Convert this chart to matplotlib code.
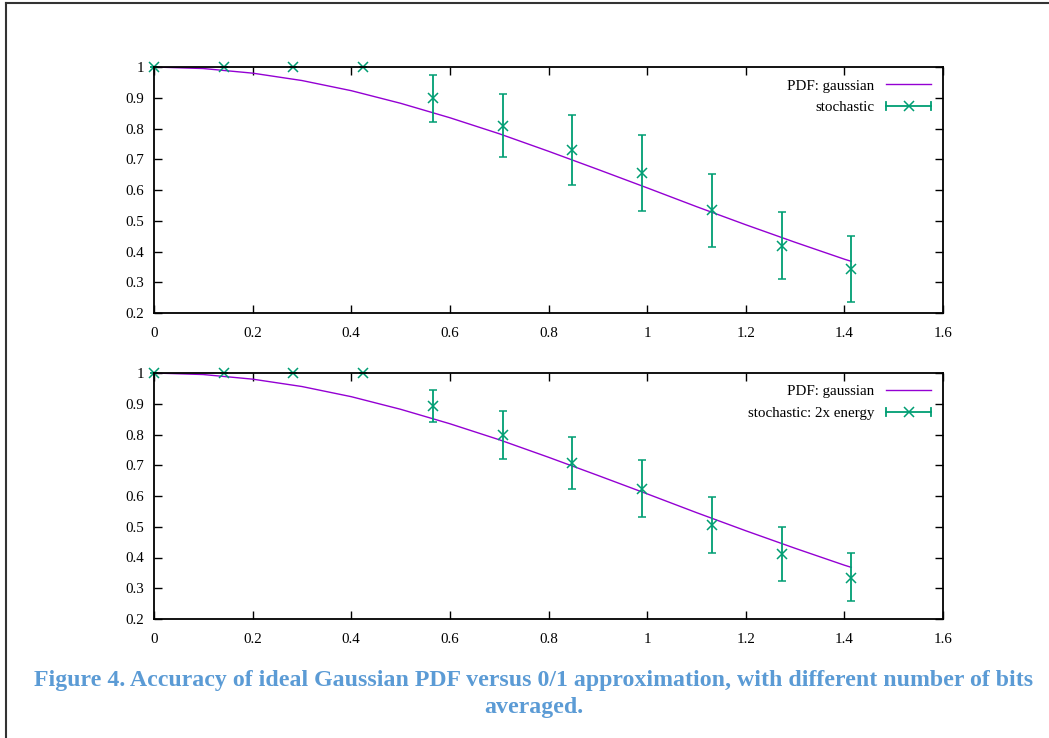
import matplotlib
matplotlib.use("Agg")
import matplotlib.pyplot as plt  # noqa: E402
from matplotlib.lines import Line2D  # noqa: E402
from matplotlib.legend_handler import HandlerBase  # noqa: E402
import numpy as np  # noqa: E402

# gaussian PDF curve
pdf_x = [0.0, 0.1, 0.2, 0.3, 0.4, 0.5, 0.6, 0.7, 0.8, 0.9, 1.0, 1.1, 1.2,
         1.3, 1.4, 1.414]
pdf_y = [1.0, 0.995, 0.980, 0.956, 0.923, 0.882, 0.835, 0.783, 0.726, 0.667,
         0.607, 0.546, 0.487, 0.430, 0.375, 0.368]

# stochastic points (same x for both panels)
sx = [0.0, 0.1414, 0.2828, 0.4243, 0.5657, 0.7071, 0.8485, 0.9899, 1.1314,
      1.2728, 1.4142]
s1_y = [1.0, 1.0, 1.0, 1.0, 0.898, 0.809, 0.730, 0.656, 0.534, 0.419, 0.343]
s1_lo = [1.0, 1.0, 1.0, 1.0, 0.822, 0.708, 0.616, 0.533, 0.416, 0.310, 0.236]
s1_hi = [1.0, 1.0, 1.0, 1.0, 0.975, 0.911, 0.844, 0.780, 0.651, 0.529, 0.451]
s2_y = [1.0, 1.0, 1.0, 1.0, 0.893, 0.798, 0.707, 0.623, 0.506, 0.411, 0.334]
s2_lo = [1.0, 1.0, 1.0, 1.0, 0.840, 0.719, 0.622, 0.532, 0.415, 0.325, 0.258]
s2_hi = [1.0, 1.0, 1.0, 1.0, 0.946, 0.877, 0.792, 0.717, 0.597, 0.498, 0.414]

xticks = [0, 0.2, 0.4, 0.6, 0.8, 1, 1.2, 1.4, 1.6]
xlabels = ["0", "0.2", "0.4", "0.6", "0.8", "1", "1.2", "1.4", "1.6"]
yticks = [0.2, 0.3, 0.4, 0.5, 0.6, 0.7, 0.8, 0.9, 1]
ylabels = ["0.2", "0.3", "0.4", "0.5", "0.6", "0.7", "0.8", "0.9", "1"]

C_PDF = "#9400d3"
C_STO = "#009e73"

plt.rcParams["font.family"] = ["Liberation Serif", "DejaVu Serif"]


class GnuErrHandler(HandlerBase):
    """gnuplot-style key sample: horizontal bar with end caps and an x."""

    def create_artists(self, legend, orig, xd, yd, width, height, fontsize,
                       trans):
        y = yd + height / 2
        c = C_STO
        cap = height * 0.4
        arts = [
            Line2D([xd, xd + width], [y, y], color=c, lw=1.3),
            Line2D([xd, xd], [y - cap, y + cap], color=c, lw=1.3),
            Line2D([xd + width, xd + width], [y - cap, y + cap], color=c,
                   lw=1.3),
            Line2D([xd + width / 2], [y], color=c, marker="x", ms=7,
                   mew=1.1, ls="none"),
        ]
        for a in arts:
            a.set_transform(trans)
        return arts


fig = plt.figure(figsize=(10.49, 7.38), dpi=100)
W, H = 1049, 738


def panel(top_px, ys, lo, hi, label):
    ax = fig.add_axes([154 / W, 1 - (top_px + 246) / H, 789 / W, 246 / H])
    ln, = ax.plot(pdf_x, pdf_y, color=C_PDF, lw=1.0)
    ys = np.array(ys)
    yerr = [ys - np.array(lo), np.array(hi) - ys]
    eb = ax.errorbar(sx, ys, yerr=yerr, color=C_STO, lw=1.3, capsize=2.7,
                     capthick=1.3, marker="x", ms=7, mew=1.1, ls="none",
                     clip_on=False)
    ax.set_xlim(0, 1.6)
    ax.set_ylim(0.2, 1)
    ax.set_xticks(xticks)
    ax.set_xticklabels(xlabels)
    ax.set_yticks(yticks)
    ax.set_yticklabels(ylabels)
    ax.tick_params(direction="in", top=True, right=True, length=6, width=1,
                   labelsize=10.8)
    ax.tick_params(axis="y", pad=7)
    ax.tick_params(axis="x", pad=10)
    for s in ax.spines.values():
        s.set_linewidth(1.3)
    ax.legend([ln, eb], ["PDF: gaussian", label], loc="upper right",
              frameon=False, markerfirst=False, fontsize=10.8,
              handlelength=3.0, borderaxespad=0.4, labelspacing=0.55,
              handler_map={type(eb): GnuErrHandler()})
    return ax


panel(67, s1_y, s1_lo, s1_hi, "stochastic")
panel(373, s2_y, s2_lo, s2_hi, "stochastic: 2x energy")

# page frame (top and left edges)
fig.add_artist(Line2D([6 / W, 1], [1 - 3 / H, 1 - 3 / H], color="#333",
                      lw=1.5, transform=fig.transFigure))
fig.add_artist(Line2D([6 / W, 6 / W], [0, 1 - 3 / H], color="#333",
                      lw=1.5, transform=fig.transFigure))

fig.text(534 / W, 1 - 694 / H,
         "Figure 4. Accuracy of ideal Gaussian PDF versus 0/1 approximation, "
         "with different number of bits\naveraged.",
         ha="center", va="center", fontsize=17.2, fontweight="bold",
         color="#5b9bd5", linespacing=1.38)

fig.savefig("out.png", dpi=100)
